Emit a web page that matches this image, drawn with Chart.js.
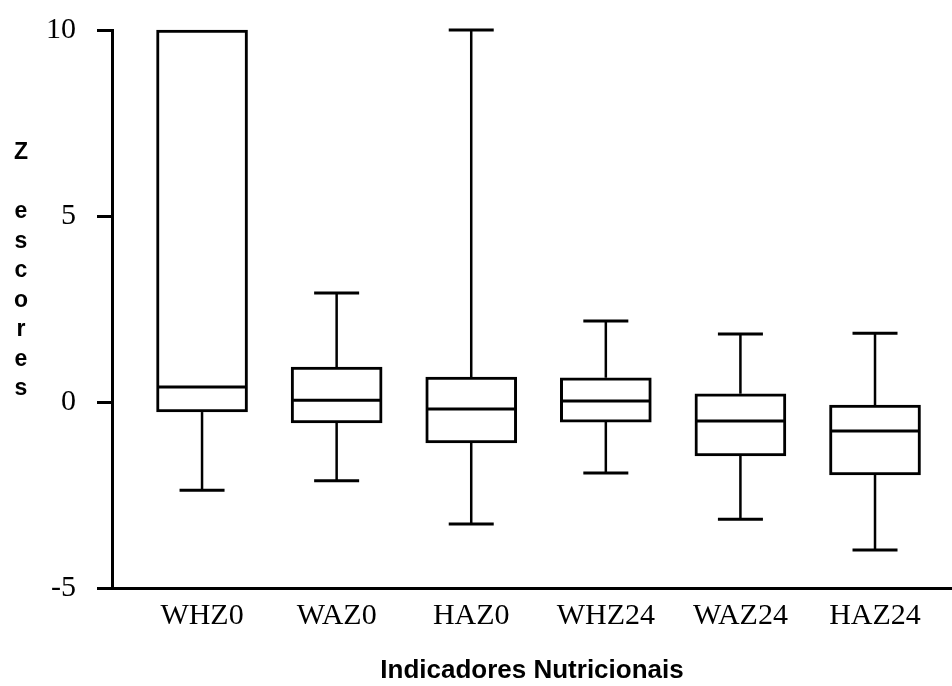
<!DOCTYPE html>
<html>
<head>
<meta charset="utf-8">
<script src="https://cdn.jsdelivr.net/npm/chart.js@4.4.0/dist/chart.umd.min.js"></script>
<style>
    html, body { margin: 0; padding: 0; background: #ffffff; }
    #wrap { width: 952px; height: 686px; }
</style>
</head>
<body>
<div id="wrap"><canvas id="boxChart" width="952" height="686"></canvas></div>
<script>
/* ---- DATA ---- */
const categories = ['WHZ0', 'WAZ0', 'HAZ0', 'WHZ24', 'WAZ24', 'HAZ24'];
const whiskerLow  = [-2.37, -2.12, -3.28, -1.91, -3.15, -3.98];
const quart1      = [-0.27, -0.56, -1.10, -0.54, -1.45, -1.96];
const medians     = [0.40, 0.05, -0.19, 0.03, -0.51, -0.78];
const quart3      = [10, 0.94, 0.67, 0.65, 0.22, -0.08];
const whiskerHigh = [10, 2.93, 10, 2.18, 1.83, 1.85];
const yTicks      = [-5, 0, 5, 10];
const yTitleLines = ['Z', '', 'e', 's', 'c', 'o', 'r', 'e', 's'];
const xTitle      = 'Indicadores Nutricionais';

const SERIF = '"Liberation Serif", "Times New Roman", serif';
const SANS  = '"Liberation Sans", Arial, sans-serif';

/* ---- WHISKERS, CAPS, MEDIANS ---- */
const whiskerPlugin = {
    id: 'whiskers',
    afterDatasetsDraw(chart) {
        const { ctx, scales: { x, y } } = chart;
        const boxHalf = 45.5;
        const capHalf = 22.5;
        ctx.save();
        ctx.strokeStyle = '#000';
        ctx.lineCap = 'butt';
        categories.forEach((cat, i) => {
            const cx = x.getPixelForValue(i);
            const yHi = y.getPixelForValue(whiskerHigh[i]);
            const yLo = y.getPixelForValue(whiskerLow[i]);
            const yQ1 = y.getPixelForValue(quart1[i]);
            const yQ3 = y.getPixelForValue(quart3[i]);
            const yMed = y.getPixelForValue(medians[i]);

            ctx.lineWidth = 2.5;
            ctx.beginPath();
            ctx.moveTo(cx, yQ3); ctx.lineTo(cx, yHi);
            ctx.moveTo(cx, yQ1); ctx.lineTo(cx, yLo);
            ctx.stroke();

            ctx.lineWidth = 3;
            ctx.beginPath();
            if (whiskerHigh[i] > quart3[i]) {
                ctx.moveTo(cx - capHalf, yHi); ctx.lineTo(cx + capHalf, yHi);
            }
            ctx.moveTo(cx - capHalf, yLo); ctx.lineTo(cx + capHalf, yLo);
            ctx.moveTo(cx - boxHalf + 2, yMed); ctx.lineTo(cx + boxHalf - 2, yMed);
            ctx.stroke();
        });
        ctx.restore();
    },
    afterDraw(chart) {
        // stacked letters of the y axis title
        const { ctx } = chart;
        const step = 29.5;
        const lastY = 389;
        ctx.save();
        ctx.fillStyle = '#000';
        ctx.font = 'bold 23px ' + SANS;
        ctx.textAlign = 'center';
        ctx.textBaseline = 'middle';
        yTitleLines.forEach((ch, k) => {
            ctx.fillText(ch, 21, lastY - (yTitleLines.length - 1 - k) * step);
        });
        ctx.restore();
    }
};

/* ---- CHART ---- */
const ctx = document.getElementById('boxChart');

new Chart(ctx, {
    type: 'bar',
    data: {
        datasets: [{
            data: categories.map((c, i) => ({ x: i, y: [quart1[i], quart3[i]] })),
            backgroundColor: '#ffffff',
            borderColor: '#000000',
            borderWidth: 3,
            borderSkipped: false,
            barThickness: 91,
            clip: false
        }]
    },
    options: {
        responsive: false,
        animation: false,
        layout: { padding: { top: 30, right: 0, left: 0, bottom: 0 } },
        plugins: {
            legend: { display: false },
            tooltip: { enabled: false },
            title: {
                display: true,
                fullSize: false,
                position: 'bottom',
                text: xTitle,
                color: '#000',
                font: { family: SANS, size: 26, weight: 'bold' },
                padding: { top: 10, bottom: 0 }
            }
        },
        scales: {
            x: {
                type: 'linear',
                offset: false,
                min: -0.669,
                max: 5.572,
                afterBuildTicks: (scale) => {
                    scale.ticks = categories.map((c, i) => ({ value: i }));
                },
                afterFit: (scale) => { scale.height = 56.8; },
                ticks: {
                    autoSkip: false,
                    maxRotation: 0,
                    padding: 10,
                    color: '#000',
                    font: { family: SERIF, size: 30 },
                    callback: (v) => categories[v]
                },
                grid: { display: false, drawTicks: false, offset: false },
                border: { display: true, color: '#000', width: 3 }
            },
            y: {
                min: -5,
                max: 10,
                afterBuildTicks: (scale) => {
                    scale.ticks = yTicks.map(v => ({ value: v }));
                },
                afterFit: (scale) => {
                    scale.width = 112;
                    scale.paddingTop = 0;
                    scale.paddingBottom = 0;
                },
                ticks: {
                    padding: 21,
                    color: '#000',
                    font: { family: SERIF, size: 30 }
                },
                grid: {
                    display: true,
                    drawOnChartArea: false,
                    drawTicks: true,
                    tickLength: 15,
                    color: '#000',
                    lineWidth: 3
                },
                border: { display: true, color: '#000', width: 3 }
            }
        }
    },
    plugins: [whiskerPlugin]
});
</script>
</body>
</html>
